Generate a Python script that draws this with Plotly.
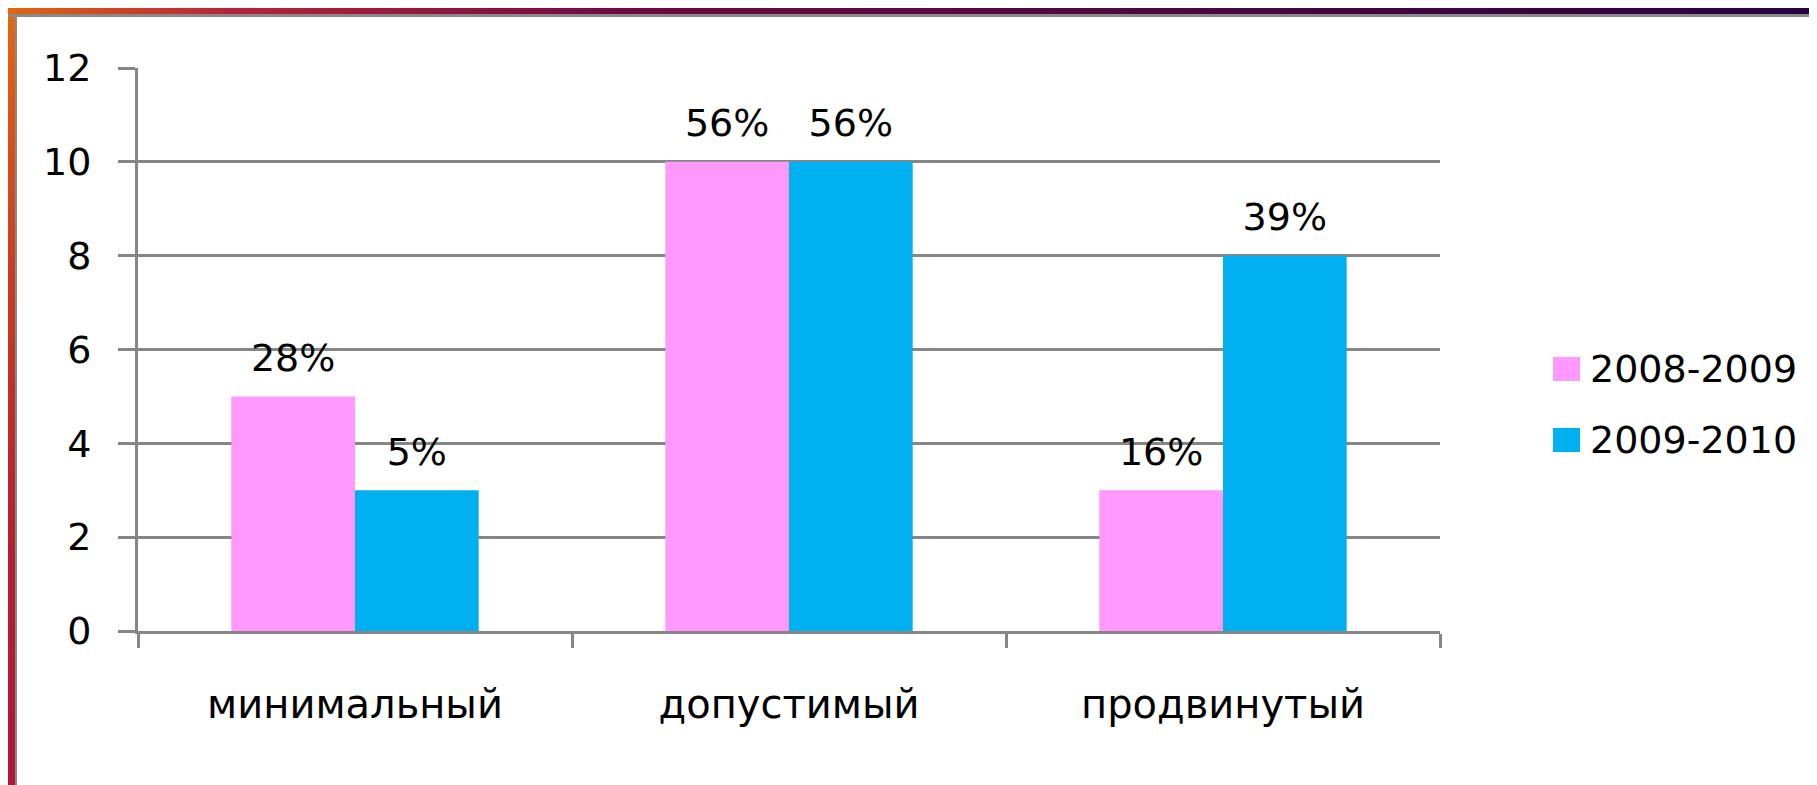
import base64
import plotly.graph_objects as go

# ---------------- data ----------------
categories = ["минимальный", "допустимый", "продвинутый"]
series_names = ["2008-2009", "2009-2010"]
values_2008 = [5, 10, 3]
values_2009 = [3, 10, 8]
labels_2008 = ["28%", "56%", "16%"]
labels_2009 = ["5%", "56%", "39%"]
y_ticks = [0, 2, 4, 6, 8, 10, 12]
colors = ["#FF99FF", "#00B0F0"]

# ---------------- geometry / style ----------------
W, H = 1817, 785
L, R, T, B = 130, 385, 60, 162
PW, PH = W - L - R, H - T - B
FONT = "DejaVu Sans, Verdana, sans-serif"
GRID = "#868686"
GAP = 0.43


def px(xp):
    return (xp - L) / PW


def py(yp):
    return (H - B - yp) / PH


def svg_uri(svg):
    return "data:image/svg+xml;base64," + base64.b64encode(svg.encode()).decode()


top_svg = (
    '<svg xmlns="http://www.w3.org/2000/svg" width="1817" height="10" preserveAspectRatio="none">'
    '<defs><linearGradient id="g" x1="0" y1="0" x2="1" y2="0">'
    '<stop offset="0" stop-color="#E2650F"/><stop offset="0.12" stop-color="#B8243A"/>'
    '<stop offset="0.35" stop-color="#6C0842"/><stop offset="0.6" stop-color="#4E0842"/>'
    '<stop offset="1" stop-color="#2A0040"/>'
    '</linearGradient></defs><rect width="1817" height="10" fill="url(#g)"/></svg>'
)
left_svg = (
    '<svg xmlns="http://www.w3.org/2000/svg" width="10" height="785" preserveAspectRatio="none">'
    '<defs><linearGradient id="g" x1="0" y1="0" x2="0" y2="1">'
    '<stop offset="0" stop-color="#E4680F"/><stop offset="0.32" stop-color="#C84020"/>'
    '<stop offset="0.7" stop-color="#B02030"/><stop offset="1" stop-color="#B0183A"/>'
    '</linearGradient></defs><rect width="10" height="785" fill="url(#g)"/></svg>'
)

fig = go.Figure()
series = [
    (series_names[0], values_2008, labels_2008, colors[0], "g1"),
    (series_names[1], values_2009, labels_2009, colors[1], "g2"),
]
for name, vals, labs, col, grp in series:
    fig.add_trace(
        go.Bar(
            x=categories,
            y=vals,
            name=name,
            offsetgroup=grp,
            marker=dict(color=col, line=dict(width=0)),
            showlegend=False,
            hoverinfo="x+y+name",
        )
    )
for name, vals, labs, col, grp in series:
    fig.add_trace(
        go.Scatter(
            x=categories,
            y=vals,
            name=name,
            offsetgroup=grp,
            mode="markers+text",
            text=labs,
            textposition="top center",
            textfont=dict(family=FONT, size=38, color="black"),
            marker=dict(size=24, color="rgba(0,0,0,0)"),
            cliponaxis=False,
            showlegend=False,
            hoverinfo="skip",
        )
    )

shapes = [
    dict(type="rect", xref="paper", yref="paper", x0=px(0), x1=px(W), y0=py(6), y1=py(9),
         fillcolor="#8A8A8A", line=dict(width=0), layer="above"),
    dict(type="rect", xref="paper", yref="paper", x0=px(7), x1=px(9), y0=py(6), y1=py(H),
         fillcolor="#8A8A8A", line=dict(width=0), layer="above"),
    dict(type="rect", xref="paper", yref="paper", x0=px(0), x1=px(W), y0=py(H - 1), y1=py(H - 3),
         fillcolor="#E8E8E8", line=dict(width=0), layer="above"),
]
annotations = []
legend_y = [361, 432]
for i, (name, col) in enumerate(zip(series_names, colors)):
    cy = legend_y[i]
    shapes.append(dict(type="rect", xref="paper", yref="paper",
                       x0=px(1545), x1=px(1572), y0=py(cy + 12), y1=py(cy - 12),
                       fillcolor=col, line=dict(width=0)))
    annotations.append(dict(text=name, xref="paper", yref="paper", x=px(1580), y=py(cy),
                            xanchor="left", yanchor="middle", showarrow=False,
                            font=dict(family=FONT, size=38, color="black")))

images = [
    dict(source=svg_uri(top_svg), xref="paper", yref="paper", x=px(0), y=py(0),
         sizex=px(W) - px(0), sizey=py(0) - py(6), xanchor="left", yanchor="top",
         sizing="stretch", layer="above"),
    dict(source=svg_uri(left_svg), xref="paper", yref="paper", x=px(0), y=py(0),
         sizex=px(7) - px(0), sizey=py(0) - py(H), xanchor="left", yanchor="top",
         sizing="stretch", layer="above"),
]

fig.update_layout(
    width=W,
    height=H,
    margin=dict(l=L, r=R, t=T, b=B, pad=0),
    paper_bgcolor="white",
    plot_bgcolor="white",
    barmode="group",
    bargap=GAP,
    bargroupgap=0,
    scattermode="group",
    scattergap=GAP,
    font=dict(family=FONT, color="black"),
    shapes=shapes,
    annotations=annotations,
    images=images,
    xaxis=dict(
        showline=True, linecolor=GRID, linewidth=3,
        ticks="outside", tickson="boundaries", ticklen=14, tickwidth=3, tickcolor=GRID,
        tickfont=dict(family=FONT, size=40, color="black"),
        ticklabelstandoff=36, showgrid=False, zeroline=False,
    ),
    yaxis=dict(
        range=[0, 12], tickvals=y_ticks, ticktext=[str(v) for v in y_ticks],
        showgrid=True, gridcolor=GRID, gridwidth=3,
        showline=True, linecolor=GRID, linewidth=3,
        ticks="outside", ticklen=17, tickwidth=3, tickcolor=GRID,
        tickfont=dict(family=FONT, size=38, color="black"),
        ticklabelstandoff=19, zeroline=False,
    ),
)

fig.write_html("out.html")
